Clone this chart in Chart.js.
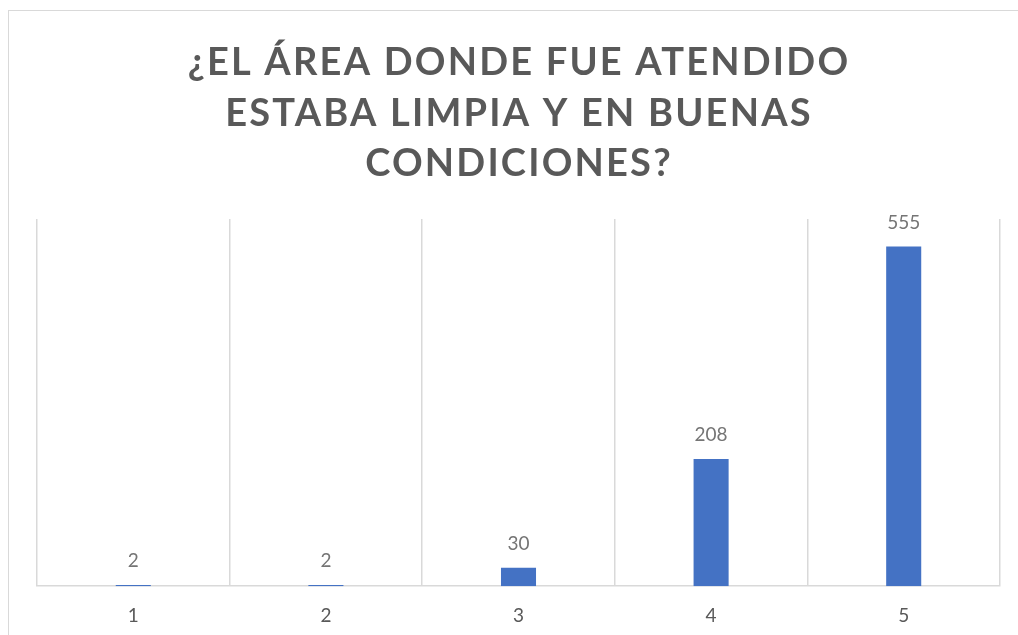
<!DOCTYPE html>
<html>
<head>
<meta charset="utf-8">
<script src="https://cdn.jsdelivr.net/npm/chart.js@4.4.0/dist/chart.umd.min.js"></script>
<style>
    html, body { margin: 0; padding: 0; background: #fff; overflow: hidden; }
    body { width: 1018px; height: 635px; position: relative; }
    .frame {
        position: absolute; left: 8px; top: 10px;
        width: 1100px; height: 700px;
        border: 1px solid #d9d9d9;
    }
    #chart { position: absolute; left: 0; top: 0; }
</style>
</head>
<body>
<div class="frame"></div>
<canvas id="chart" width="1018" height="635"></canvas>
<script>
const categories = ['1', '2', '3', '4', '5'];
const responses = [2, 2, 30, 208, 555];
const titleLines = ['¿EL ÁREA DONDE FUE ATENDIDO', 'ESTABA LIMPIA Y EN BUENAS', 'CONDICIONES?'];
const yMax = 600;

// title with letter spacing (the built-in title has none)
const spacedTitle = {
    id: 'spacedTitle',
    afterDraw(chart) {
        const ctx = chart.ctx;
        ctx.save();
        ctx.font = 'bold 38px Lato';
        ctx.fillStyle = '#595959';
        ctx.textAlign = 'center';
        ctx.textBaseline = 'alphabetic';
        ctx.letterSpacing = '2.2px';
        titleLines.forEach((line, i) => {
            ctx.fillText(line, 519, 75 + i * 50.5);
        });
        ctx.restore();
    }
};

// value labels above each bar
const barValues = {
    id: 'barValues',
    afterDatasetsDraw(chart) {
        const ctx = chart.ctx;
        const meta = chart.getDatasetMeta(0);
        ctx.save();
        ctx.font = '19px Lato';
        ctx.fillStyle = '#757575';
        ctx.textAlign = 'center';
        ctx.textBaseline = 'middle';
        meta.data.forEach((bar, i) => {
            ctx.fillText(responses[i], bar.x, bar.y - 24);
        });
        ctx.restore();
    }
};

new Chart(document.getElementById('chart'), {
    type: 'bar',
    data: {
        labels: categories,
        datasets: [{
            data: responses,
            backgroundColor: '#4472c4',
            borderWidth: 0,
            categoryPercentage: 0.182,
            barPercentage: 1
        }]
    },
    options: {
        responsive: false,
        animation: false,
        layout: {
            padding: { left: 37, right: 18, top: 219, bottom: -10 }
        },
        scales: {
            x: {
                grid: {
                    color: '#d9d9d9',
                    lineWidth: 1.5,
                    drawTicks: false
                },
                border: { color: '#d9d9d9', width: 1.5 },
                ticks: {
                    color: '#595959',
                    font: { family: 'Lato', size: 19 },
                    padding: 18
                }
            },
            y: {
                display: false,
                min: 0,
                max: yMax
            }
        },
        plugins: {
            legend: { display: false },
            title: { display: false },
            tooltip: { enabled: false }
        }
    },
    plugins: [spacedTitle, barValues]
});
</script>
</body>
</html>
